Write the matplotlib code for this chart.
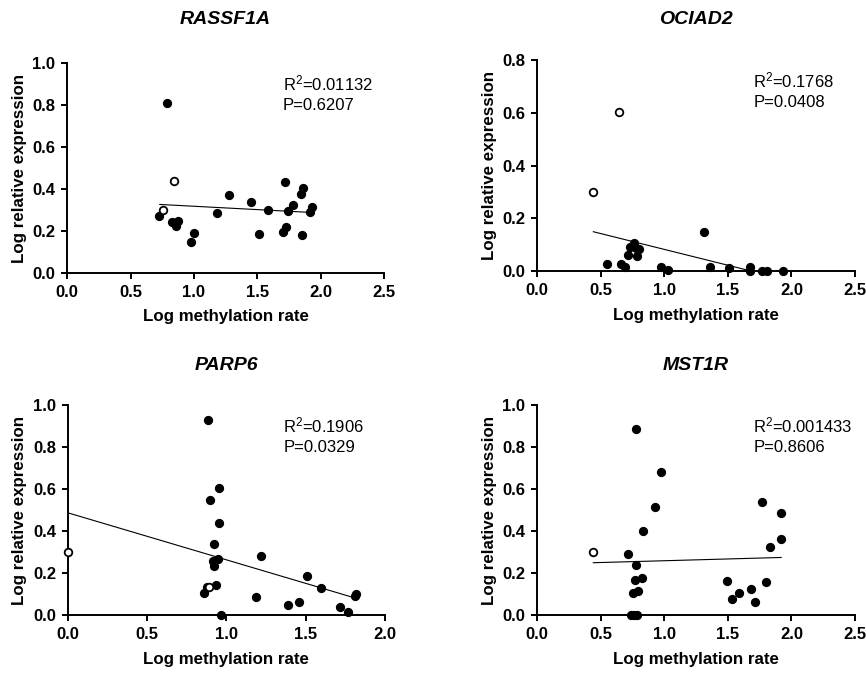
#!/usr/bin/env python3
# Methylation vs expression scatter plots, four genes, 2x2 grid
import numpy as np
import matplotlib
matplotlib.use("Agg")
import matplotlib.pyplot as plt

plt.rcParams['font.family'] = ['Liberation Sans', 'DejaVu Sans']
plt.rcParams['mathtext.default'] = 'regular'

genes = ["RASSF1A", "OCIAD2", "PARP6", "MST1R"]
stats = [("0.01132", "0.6207"), ("0.1768", "0.0408"),
         ("0.1906", "0.0329"), ("0.001433", "0.8606")]

# RASSF1A
rassf_x = [0.789, 0.726, 0.824, 0.855, 0.874, 0.997, 0.979, 1.179, 1.276, 1.45,
           1.516, 1.587, 1.716, 1.705, 1.729, 1.739, 1.779, 1.847, 1.861, 1.855,
           1.913, 1.932]
rassf_y = [0.812, 0.272, 0.240, 0.223, 0.248, 0.188, 0.148, 0.283, 0.373, 0.336,
           0.183, 0.301, 0.433, 0.196, 0.220, 0.295, 0.322, 0.374, 0.404, 0.182,
           0.290, 0.314]
rassf_open_x = [0.755, 0.842]
rassf_open_y = [0.301, 0.436]
rassf_fit_x = [0.73, 1.916]
rassf_fit_y = [0.326, 0.288]

# OCIAD2
ociad_x = [0.551, 0.659, 0.688, 0.711, 0.73, 0.759, 0.78, 0.80, 0.787, 0.974,
           1.029, 1.31, 1.357, 1.509, 1.677, 1.677, 1.766, 1.806, 1.932]
ociad_y = [0.027, 0.025, 0.015, 0.061, 0.091, 0.105, 0.086, 0.085, 0.057, 0.014,
           0.005, 0.147, 0.015, 0.010, 0.014, 0.001, 0.001, 0.001, 0.0]
ociad_open_x = [0.646, 0.441]
ociad_open_y = [0.604, 0.298]
ociad_fit_x = [0.441, 1.932]
ociad_fit_y = [0.149, -0.030]

# PARP6
parp_x = [0.887, 0.897, 0.956, 0.956, 0.924, 0.95, 0.914, 0.92, 0.859, 0.876,
          0.935, 0.964, 1.221, 1.185, 1.391, 1.46, 1.506, 1.597, 1.718, 1.765,
          1.813, 1.817]
parp_y = [0.927, 0.547, 0.606, 0.44, 0.339, 0.269, 0.259, 0.236, 0.108, 0.133,
          0.142, 0.0, 0.283, 0.089, 0.049, 0.062, 0.187, 0.130, 0.038, 0.016,
          0.092, 0.101]
parp_open_x = [0.0, 0.89]
parp_open_y = [0.30, 0.135]
parp_fit_x = [0.0, 1.817]
parp_fit_y = [0.487, 0.081]

# MST1R
mst_x = [0.777, 0.971, 0.927, 0.832, 0.717, 0.777, 0.769, 0.822, 0.756, 0.79,
         0.738, 0.761, 0.782, 1.496, 1.53, 1.59, 1.68, 1.711, 1.772, 1.803,
         1.832, 1.916, 1.919]
mst_y = [0.887, 0.683, 0.513, 0.398, 0.292, 0.238, 0.165, 0.176, 0.105, 0.113,
         0.0, 0.0, 0.0, 0.160, 0.078, 0.105, 0.125, 0.062, 0.537, 0.158,
         0.326, 0.361, 0.487]
mst_open_x = [0.438]
mst_open_y = [0.30]
mst_fit_x = [0.441, 1.919]
mst_fit_y = [0.249, 0.274]

panels = [
    (rassf_x, rassf_y, rassf_open_x, rassf_open_y, rassf_fit_x, rassf_fit_y),
    (ociad_x, ociad_y, ociad_open_x, ociad_open_y, ociad_fit_x, ociad_fit_y),
    (parp_x, parp_y, parp_open_x, parp_open_y, parp_fit_x, parp_fit_y),
    (mst_x, mst_y, mst_open_x, mst_open_y, mst_fit_x, mst_fit_y),
]
xmax = [2.5, 2.5, 2.0, 2.5]
ymax = [1.0, 0.8, 1.0, 1.0]
rects = [
    [0.0777, 0.596, 0.3657, 0.3102],
    [0.6204, 0.5985, 0.3669, 0.3126],
    [0.0782, 0.0884, 0.3664, 0.312],
    [0.6204, 0.0889, 0.3669, 0.311],
]
title_pad = [28, 26, 25, 25]

fig = plt.figure(figsize=(8.66, 6.75), dpi=100)

for i in range(4):
    ax = fig.add_axes(rects[i])
    fx, fy, ox, oy, lx, ly = panels[i]
    ax.plot(lx, ly, color='black', lw=0.8, zorder=2)
    ax.scatter(fx, fy, s=32, color='black', zorder=3, clip_on=False)
    ax.scatter(ox, oy, s=30, facecolor='white', edgecolor='black',
               linewidths=1.3, zorder=4, clip_on=False)
    ax.set_xlim(0, xmax[i])
    ax.set_ylim(0, ymax[i])
    ax.set_xticks(np.arange(0, xmax[i] + 0.01, 0.5))
    ax.set_yticks(np.arange(0, ymax[i] + 0.01, 0.2))
    ax.xaxis.set_major_formatter(matplotlib.ticker.FormatStrFormatter('%.1f'))
    ax.yaxis.set_major_formatter(matplotlib.ticker.FormatStrFormatter('%.1f'))
    for s in ['top', 'right']:
        ax.spines[s].set_visible(False)
    for s in ['left', 'bottom']:
        ax.spines[s].set_linewidth(1.4)
    ax.tick_params(width=1.4, length=4.5, labelsize=12, pad=4)
    for lab in ax.get_xticklabels() + ax.get_yticklabels():
        lab.set_fontweight('bold')
    ax.set_xlabel("Log methylation rate", fontsize=12.2, fontweight='bold',
                  labelpad=7)
    ax.set_ylabel("Log relative expression", fontsize=12.2, fontweight='bold',
                  labelpad=4)
    ax.set_title(genes[i], fontsize=14, fontweight='bold', style='italic',
                 pad=title_pad[i])
    r2, p = stats[i]
    ax.text(0.68, 0.95, "R$^{2}$=" + r2 + "\nP=" + p, transform=ax.transAxes,
            fontsize=12, va='top', ha='left', linespacing=1.4)

fig.savefig("out.png", dpi=100)
